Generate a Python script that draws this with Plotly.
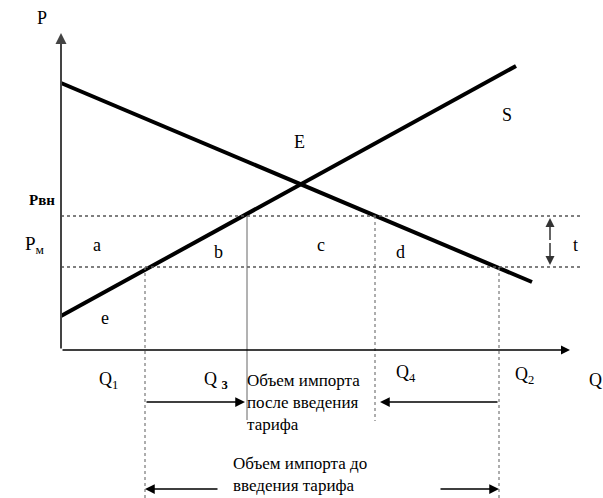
import plotly.graph_objects as go

# demand and supply curves (Q, P)
q_demand = [0, 47.1]
p_demand = [26.7, 6.8]
q_supply = [0, 45.5]
p_supply = [3.4, 28.4]

# price levels: world price with tariff and world price
p_levels = [13.4, 8.3]
p_level_names = ["Pвн", "Pм"]

# quantity marks Q1, Q3, Q4, Q2
q_marks = [8.4, 18.6, 31.4, 43.8]
q_mark_names = ["Q<sub>1</sub>", "Q <sub><b>3</b></sub>", "Q<sub>4</sub>", "Q<sub>2</sub>"]

FONT = "Liberation Serif, Times New Roman, serif"
Q_MAX = 50.9
P_MAX = 31.7
P_BOTTOM = -14.8

fig = go.Figure()

fig.add_trace(go.Scatter(x=q_demand, y=p_demand, mode="lines",
                         line=dict(color="black", width=4), hoverinfo="skip"))
fig.add_trace(go.Scatter(x=q_supply, y=p_supply, mode="lines",
                         line=dict(color="black", width=4), hoverinfo="skip"))

p_tariff, p_world = p_levels
q1, q3, q4, q2 = q_marks

# dotted price lines
for p in p_levels:
    fig.add_shape(type="line", x0=0, x1=52.2, y0=p, y1=p,
                  line=dict(color="#555", width=1.3, dash="dot"))

# vertical guides
fig.add_shape(type="line", x0=q1, x1=q1, y0=p_world, y1=P_BOTTOM,
              line=dict(color="#777", width=1.2, dash="dot"))
fig.add_shape(type="line", x0=q2, x1=q2, y0=p_world, y1=P_BOTTOM,
              line=dict(color="#777", width=1.2, dash="dot"))
fig.add_shape(type="line", x0=q3, x1=q3, y0=p_tariff, y1=-7.0,
              line=dict(color="#666", width=1))
fig.add_shape(type="line", x0=q4, x1=q4, y0=p_tariff, y1=-7.1,
              line=dict(color="#777", width=1.2, dash="dot"))


def arrow(x0, y0, x1, y1, color="black", width=1.5, size=1.3):
    fig.add_annotation(x=x1, y=y1, ax=x0, ay=y0, xref="x", yref="y",
                       axref="x", ayref="y", text="", showarrow=True,
                       arrowhead=2, arrowsize=size, arrowwidth=width,
                       arrowcolor=color, font=dict(size=1))


def label(x, y, text, size=18, xanchor="center", yanchor="middle", color="black"):
    fig.add_annotation(x=x, y=y, xref="x", yref="y", text=text, showarrow=False,
                       xanchor=xanchor, yanchor=yanchor, align="left",
                       font=dict(family=FONT, size=size, color=color))


# axes
arrow(0, 0, 0, P_MAX, color="#444", width=2, size=1.1)
arrow(0, 0, Q_MAX, 0, color="black", width=1.5, size=1.2)

# tariff double arrow
arrow(48.9, 10.85, 48.9, p_tariff - 0.2, color="#333", width=1.5, size=1.2)
arrow(48.9, 10.85, 48.9, p_world + 0.2, color="#333", width=1.5, size=1.2)

# import volume arrows
arrow(q1, -5.2, 18.4, -5.2)
arrow(q2, -5.2, 31.9, -5.2)
arrow(15.8, -13.9, q1, -13.9)
arrow(37.8, -13.9, q2, -13.9)

# labels
label(-1.9, 33.2, "P")
label(-1.9, 15.0, "<b>Pвн</b>", size=15)
label(-2.6, 10.5, "P<sub>м</sub>", size=19)
for x, y, t in [(3.6, 10.5, "a"), (15.7, 9.8, "b"), (26.0, 10.5, "c"),
                (33.9, 9.8, "d"), (4.4, 3.2, "e"), (23.8, 20.8, "E"),
                (44.6, 23.5, "S"), (51.4, 10.5, "t")]:
    label(x, y, t)

for x, y, t in zip([4.7, 15.5, 34.5, 46.3], [-3.0, -3.0, -2.3, -2.5], q_mark_names):
    label(x, y, t)
label(52.6, -3.0, "Q", xanchor="left")

label(18.4, -1.9, "Объем импорта<br>после введения<br>тарифа", size=17,
      xanchor="left", yanchor="top")
label(17.0, -14.7, "Объем импорта до<br>введения тарифа", size=17,
      xanchor="left", yanchor="bottom")

fig.update_layout(
    width=603, height=498,
    margin=dict(l=0, r=0, t=0, b=0),
    paper_bgcolor="white", plot_bgcolor="white",
    showlegend=False,
    xaxis=dict(range=[-6.1, 54.2], visible=False, fixedrange=True),
    yaxis=dict(range=[P_BOTTOM, 35], visible=False, fixedrange=True),
)

fig.write_html("out.html", config={"displayModeBar": False},
               post_script="document.body.style.margin='0';")
